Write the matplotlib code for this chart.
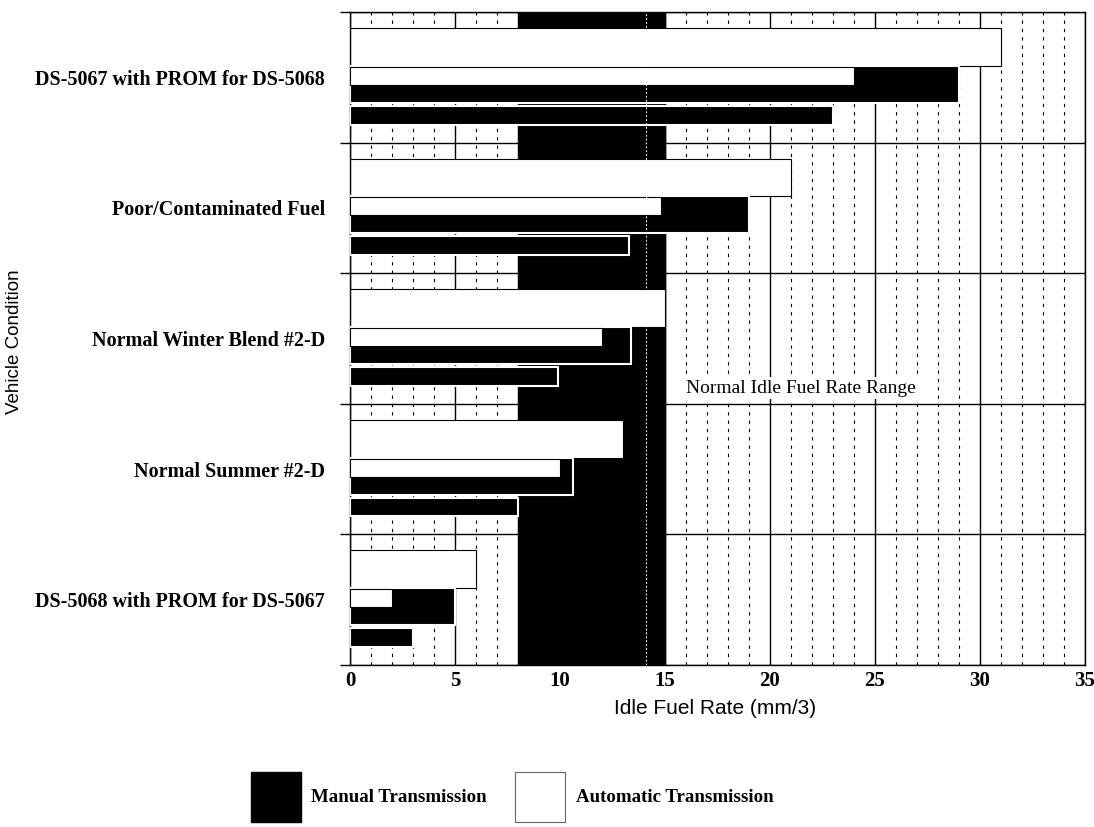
import matplotlib
matplotlib.use("Agg")
import matplotlib.pyplot as plt
from matplotlib.patches import Patch

# values, categories listed top to bottom
conditions = ["DS-5067 with PROM for DS-5068", "Poor/Contaminated Fuel",
              "Normal Winter Blend #2-D", "Normal Summer #2-D",
              "DS-5068 with PROM for DS-5067"]
auto_high = [31, 21, 15, 13, 6]
auto_low = [24, 14.8, 12, 10, 2]
manual_high = [29, 19, 13.4, 10.6, 5]
manual_low = [23, 13.3, 9.9, 8, 3]
normal_range = (8, 15)
x_ticks = [0, 5, 10, 15, 20, 25, 30, 35]

SERIF = "Liberation Serif"
SANS = "Liberation Sans"

fig = plt.figure(figsize=(10.94, 8.27), dpi=100)
ax = fig.add_axes([0.3199, 0.1959, 0.6718, 0.7896])

n = len(conditions)
idx = range(n)

# grid: dashed every unit, solid every 5, solid at category boundaries
ax.set_xlim(0, 35)
ax.set_ylim(n, 0)
ax.set_xticks(x_ticks)
ax.set_xticks(range(36), minor=True)
ax.set_yticks(range(n + 1))
ax.set_yticks([i + 0.5 for i in idx], minor=True)
ax.set_yticklabels([""] * (n + 1))
ax.set_yticklabels(conditions, minor=True, fontfamily=SERIF,
                   fontweight="bold", fontsize=14.5)
ax.set_axisbelow(True)
ax.grid(which="minor", axis="x", color="black", lw=0.8, ls=(0, (3, 4.5)))
ax.grid(which="major", axis="x", color="black", lw=1.0)
ax.grid(which="major", axis="y", color="black", lw=1.0)

ax.tick_params(axis="x", which="both", length=0, pad=4)
ax.tick_params(axis="y", which="major", length=7, width=1, direction="out")
ax.tick_params(axis="y", which="minor", length=0, pad=18)
for lab in ax.get_xticklabels():
    lab.set_fontfamily(SERIF)
    lab.set_fontweight("bold")
    lab.set_fontsize(15)
for sp in ax.spines.values():
    sp.set_linewidth(1.0)

# normal idle range band
ax.axvspan(*normal_range, color="black", zorder=1)

ys = list(idx)
ax.barh([i + 0.122 for i in ys], auto_high, height=0.29, align="edge",
        color="white", edgecolor="black", lw=0.8, zorder=2)
ax.barh([i + 0.412 for i in ys], manual_high, height=0.283, align="edge",
        color="black", edgecolor="white", lw=1.5, zorder=3)
ax.barh([i + 0.42 for i in ys], auto_low, height=0.137, align="edge",
        color="white", edgecolor="black", lw=0.8, zorder=4)
ax.barh([i + 0.718 for i in ys], manual_low, height=0.145, align="edge",
        color="black", edgecolor="white", lw=1.5, zorder=3)

ax.axvline(14.1, color="white", lw=0.7, ls=(0, (2, 2)), zorder=5)

ax.text(16.0, 2.88, "Normal Idle Fuel Rate Range  ", fontfamily=SERIF,
        fontsize=14, va="center", ha="left", zorder=6,
        bbox=dict(facecolor="white", edgecolor="none", pad=2))

fig.text(715 / 1094, 1 - 709 / 827, "Idle Fuel Rate (mm/3)", fontfamily=SANS,
         fontsize=15, ha="center", va="center")
fig.text(15 / 1094, 1 - 342 / 827, "Vehicle Condition", fontfamily=SANS,
         fontsize=13.5, rotation=90, ha="center", va="center")

handles = [Patch(facecolor="black", edgecolor="black", label="Manual Transmission"),
           Patch(facecolor="white", edgecolor="0.4", lw=0.8, label="Automatic Transmission")]
fig.legend(handles=handles, loc="center", bbox_to_anchor=(0.468, 1 - 797 / 827),
           ncol=2, frameon=False, handlelength=2.65, handleheight=3.7,
           handletextpad=0.55, columnspacing=1.5,
           prop=dict(family=SERIF, weight="bold", size=13.6))

fig.savefig("out.png", dpi=100)
